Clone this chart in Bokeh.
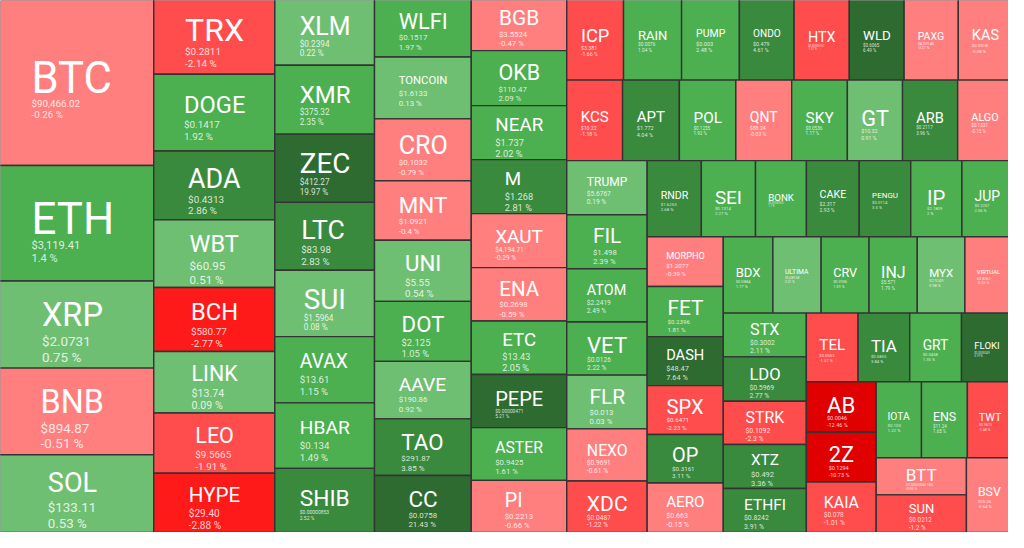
from bokeh.plotting import figure
from bokeh.models import ColumnDataSource, Range1d
from bokeh.core.properties import value
from bokeh.embed import file_html
from bokeh.resources import INLINE

# ---------------- data ----------------
symbols = ["BTC", "ETH", "XRP", "BNB", "SOL",
           "TRX", "DOGE", "ADA", "WBT", "BCH", "LINK", "LEO", "HYPE",
           "XLM", "XMR", "ZEC", "LTC", "SUI", "AVAX", "HBAR", "SHIB",
           "WLFI", "TONCOIN", "CRO", "MNT", "UNI", "DOT", "AAVE", "TAO", "CC",
           "BGB", "OKB", "NEAR", "M", "XAUT", "ENA", "ETC", "PEPE", "ASTER", "PI",
           "ICP", "RAIN", "PUMP", "ONDO", "HTX", "WLD", "PAXG", "KAS",
           "KCS", "APT", "POL", "QNT", "SKY", "GT", "ARB", "ALGO",
           "TRUMP", "FIL", "ATOM", "VET", "FLR", "NEXO", "XDC",
           "RNDR", "SEI", "BONK", "CAKE", "PENGU", "IP", "JUP",
           "MORPHO", "FET", "DASH", "SPX", "OP", "AERO",
           "BDX", "ULTIMA", "CRV", "INJ", "MYX", "VIRTUAL",
           "STX", "LDO", "STRK", "XTZ", "ETHFI",
           "TEL", "TIA", "GRT", "FLOKI",
           "AB", "2Z", "KAIA",
           "IOTA", "ENS", "TWT",
           "BTT", "SUN", "BSV"]

prices = ["$90,466.02", "$3,119.41", "$2.0731", "$894.87", "$133.11",
          "$0.2811", "$0.1417", "$0.4313", "$60.95", "$580.77", "$13.74", "$9.5665", "$29.40",
          "$0.2394", "$375.32", "$412.27", "$83.98", "$1.5964", "$13.61", "$0.134", "$0.00000853",
          "$0.1517", "$1.6133", "$0.1032", "$1.0921", "$5.55", "$2.125", "$190.86", "$291.87", "$0.0758",
          "$3.5524", "$110.47", "$1.737", "$1.268", "$4,194.71", "$0.2698", "$13.43", "$0.00000471", "$0.9425", "$0.2213",
          "$3.381", "$0.0076", "$0.003", "$0.479", "$0.00000167", "$0.6065", "$4,209.40", "$0.0518",
          "$10.22", "$1.772", "$0.1235", "$88.24", "$0.0536", "$10.32", "$0.2117", "$0.1331",
          "$5.6767", "$1.498", "$2.2419", "$0.0126", "$0.013", "$0.9691", "$0.0487",
          "$1.6253", "$0.1314", "$0.00000925", "$2.317", "$0.0114", "$2.1809", "$0.2257",
          "$1.2077", "$0.2396", "$48.47", "$0.6471", "$0.3161", "$0.663",
          "$0.0884", "$5,689.68", "$0.3906", "$5.571", "$2.9249", "$0.8061",
          "$0.3002", "$0.5969", "$0.1092", "$0.492", "$0.8242",
          "$0.0053", "$0.5835", "$0.0458", "$0.0000049",
          "$0.0046", "$0.1294", "$0.078",
          "$0.103", "$11.24", "$0.9875",
          "$0.00000041188", "$0.0212", "$20.26"]

changes = [-0.26, 1.4, 0.75, -0.51, 0.53,
           -2.14, 1.92, 2.86, 0.51, -2.77, 0.09, -1.91, -2.88,
           0.22, 2.35, 19.97, 2.83, 0.08, 1.15, 1.49, 2.52,
           1.97, 0.13, -0.79, -0.4, 0.54, 1.05, 0.92, 3.85, 21.43,
           -0.47, 2.09, 2.02, 2.81, -0.29, -0.59, 2.05, 5.21, 1.61, -0.66,
           -1.66, 1.04, 2.48, 4.61, -1.51, 6.49, -0.27, -0.08,
           -1.18, 4.04, 1.92, -0.03, 1.17, 0.91, 3.96, -0.15,
           0.19, 2.39, 2.49, 2.22, 0.03, -0.61, -1.22,
           2.68, 2.27, 1.1, 2.93, 3.5, 2, 2.06,
           -0.39, 1.81, 7.64, -2.23, 3.11, -0.15,
           1.77, 0.01, 1.59, 1.79, 0.98, -0.35,
           2.11, 2.77, -2.3, 3.36, 3.91,
           -1.57, 3.84, 1.35, 5.19,
           -12.46, -10.73, -1.01,
           1.22, 1.65, -1.48,
           -0.93, -1.2, -0.64]

# relative market-cap weights (tile sizes)
weights = [288.3, 197.2, 148.6, 148.0, 132.6,
           98.4, 97.2, 87.3, 85.7, 80.9, 78.1, 76.3, 75.0,
           71.6, 71.9, 71.2, 70.9, 69.2, 69.1, 68.4, 66.9,
           61.2, 62.6, 62.6, 60.3, 61.9, 60.7, 58.3, 57.3, 57.7,
           54.0, 54.9, 54.0, 54.0, 53.9, 53.4, 53.4, 53.1, 52.7, 52.1,
           49.6, 50.7, 50.5, 47.8, 48.2, 47.9, 47.3, 47.3,
           47.1, 47.9, 47.6, 47.1, 47.0, 46.5, 46.5, 46.2,
           45.5, 45.4, 44.9, 44.7, 45.2, 43.9, 43.3,
           43.1, 43.1, 40.5, 42.0, 41.0, 40.7, 40.2,
           39.7, 39.9, 39.0, 38.9, 38.7, 39.4,
           39.7, 38.6, 38.3, 38.6, 38.1, 38.0,
           38.0, 38.6, 37.6, 38.3, 38.2,
           37.2, 37.1, 37.2, 36.6,
           36.9, 36.4, 36.9,
           36.0, 36.5, 35.8,
           35.1, 35.5, 36.0]

# treemap strips (squarified order): tile count and direction (V = column, H = row)
strip_counts = [5, 8, 8, 9, 10, 8, 8, 7, 7, 6, 6, 5, 4, 3, 3, 2, 1]
strip_dirs = ["V", "V", "V", "V", "V", "H", "H", "V", "H", "V", "H", "V", "H", "V", "H", "V", "V"]

# ---------------- layout ----------------
W_PX, H_PX = 1008, 532
VIEW_W, VIEW_H = 1024, 548
CANVAS = (-10.0, -4.0, 1028.0, 548.0)   # treemap is slightly cropped by the view
KF = (W_PX / VIEW_W + H_PX / VIEW_H) / 2.0


def strip_layout(vals, counts, dirs, x0, y0, x1, y1):
    rects = []
    i = 0
    remaining = float(sum(vals))
    for n, d in zip(counts, dirs):
        group = vals[i:i + n]
        s = float(sum(group))
        w, h = x1 - x0, y1 - y0
        if d == "V":
            cw = w * s / remaining
            yy = y0
            for v in group:
                hh = h * v / s
                rects.append((x0, x0 + cw, yy, yy + hh))
                yy += hh
            x0 += cw
        else:
            rh = h * s / remaining
            xx = x0
            for v in group:
                ww = w * v / s
                rects.append((xx, xx + ww, y0, y0 + rh))
                xx += ww
            y0 += rh
        remaining -= s
        i += n
    return rects


rects = strip_layout(weights, strip_counts, strip_dirs, *CANVAS)


def color_for(c):
    if c >= 5:
        return "#2e6b30"
    if c >= 2.5:
        return "#3a8a3d"
    if c >= 1:
        return "#4caf50"
    if c >= 0:
        return "#6fbf73"
    if c > -1:
        return "#ff7f7f"
    if c > -2.5:
        return "#ff4c4c"
    if c > -5:
        return "#ff1a1a"
    return "#e00000"


EM = {"A": .652, "B": .623, "C": .636, "D": .641, "E": .555, "F": .540, "G": .666, "H": .696,
      "I": .272, "J": .540, "K": .612, "L": .525, "M": .853, "N": .695, "O": .672, "P": .630,
      "Q": .672, "R": .602, "S": .594, "T": .597, "U": .633, "V": .637, "W": .866, "X": .612,
      "Y": .587, "Z": .585, "$": .562, ".": .263, ",": .197, "%": .733, " ": .248, "-": .276}


def emw(s):
    return sum(EM.get(ch, .562) for ch in s)


def fmt_pct(c):
    return f"{c:g} %"


tiles = dict(l=[], r=[], t=[], b=[], color=[])
sym_src = dict(x=[], y=[], text=[], size=[])
inf_src = dict(x=[], y=[], text=[], size=[])

for sym, pr, ch, (l, r, t, b) in zip(symbols, prices, changes, rects):
    tiles["l"].append(l); tiles["r"].append(r)
    tiles["t"].append(t); tiles["b"].append(b)
    tiles["color"].append(color_for(ch))
    w, h = r - l, b - t
    pct = fmt_pct(ch)
    pe, ce, se = emw(pr), emw(pct), emw(sym)
    info = min(0.30 * w / max(pe, ce), 0.17 * h, 15.0)
    sf = min(0.5 * w / se, 0.6 * (h - 2.5 * info), 0.4 * w, 46.0)
    block_h = 1.01 * sf + 2.45 * info
    top = (t + b) / 2.0 - block_h / 2.0
    sb = top + 0.71 * sf
    pb = sb + 0.3 * sf + 1.25 * info
    cb = pb + 1.2 * info
    bw = max(se * sf, pe * info, ce * info)
    left = (l + r) / 2.0 - bw / 2.0
    sym_src["x"].append(left); sym_src["y"].append(sb)
    sym_src["text"].append(sym); sym_src["size"].append(f"{sf * KF:.1f}px")
    for txt, yy in ((pr, pb), (pct, cb)):
        inf_src["x"].append(left); inf_src["y"].append(yy)
        inf_src["text"].append(txt); inf_src["size"].append(f"{info * KF:.1f}px")

p = figure(width=W_PX, height=H_PX, output_backend="svg", toolbar_location=None,
           x_range=Range1d(0, VIEW_W), y_range=Range1d(VIEW_H, 0),
           min_border=0, background_fill_color="#333333", border_fill_color="#333333")
p.axis.visible = False
p.grid.visible = False
p.outline_line_color = None

p.quad(left="l", right="r", top="t", bottom="b", fill_color="color",
       line_color="#333333", line_width=1.4, source=ColumnDataSource(tiles))
p.text(x="x", y="y", text="text", text_font_size="size", source=ColumnDataSource(sym_src),
       text_color="white", text_font=value("Roboto"), text_align="left",
       text_baseline="alphabetic")
p.text(x="x", y="y", text="text", text_font_size="size", source=ColumnDataSource(inf_src),
       text_color="white", text_alpha=0.82, text_font=value("Roboto"), text_align="left",
       text_baseline="alphabetic")

open("out.html", "w").write(file_html(p, INLINE))
